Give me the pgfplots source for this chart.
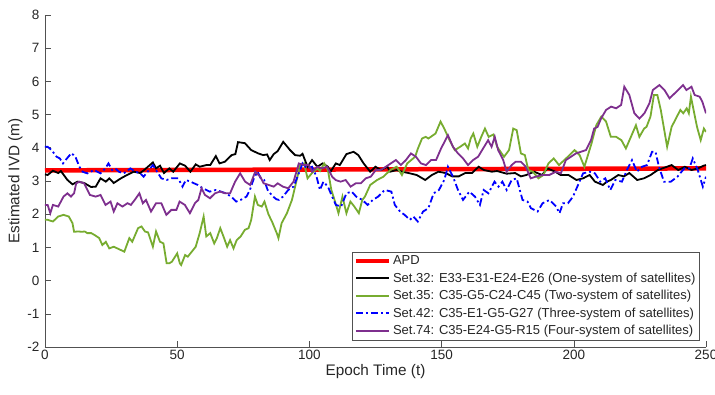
\documentclass[border=0pt]{standalone}
\usepackage{pgfplots}
\pgfplotsset{compat=1.18}
\usepackage{fontspec}
\setmainfont{Liberation Sans}
\definecolor{mgreen}{RGB}{119,172,48}
\definecolor{mpurple}{RGB}{126,47,142}
\definecolor{axgray}{RGB}{38,38,38}
\begin{document}
\begin{tikzpicture}
\useasboundingbox (-45pt,-47pt) rectangle (670pt,347pt);
\begin{axis}[
  at={(0,0)}, anchor=south west,
  scale only axis, width=661pt, height=332pt,
  xmin=0, xmax=250, ymin=-2, ymax=8,
  xtick={0,50,100,150,200,250}, ytick={-2,-1,0,1,2,3,4,5,6,7,8},
  axis lines=left, axis line style={-, draw=axgray!80, line width=0.6pt},
  tick align=inside, major tick length=6pt,
  tick style={draw=axgray!80, line width=0.6pt},
  /pgf/number format/assume math mode=true,
  ticklabel style={font=\fontsize{13.5}{15}\selectfont, text=axgray},
  yticklabel style={xshift=-2pt},
  xlabel={Epoch Time (t)}, ylabel={Estimated IVD (m)},
  label style={font=\fontsize{15.3}{17}\selectfont, text=axgray},
  xlabel style={yshift=3pt},
  ylabel style={yshift=-2pt},
  legend style={at={(0.464,0.286)}, anchor=north west, font=\fontsize{13}{14}\selectfont,
    draw=axgray!80, line width=0.6pt, inner sep=1.5pt, row sep=2.6pt, text=axgray},
  legend cell align=left,
  legend image code/.code={\draw[#1] (0pt,0.25pt) -- (33pt,0.25pt);},
]
\addplot[color=red, line width=4.5pt] coordinates {(0,3.32)(250,3.38)};
\addlegendentry{APD}
\addplot[color=black, line width=1.8pt] coordinates {
(0,3.2)(1,3.18)(3,3.31)(5,3.24)(6,3.3)(8.5,3.03)(10.4,2.9)(12.3,2.98)(14.8,2.94)(17.4,2.82)(19.2,2.83)(21,3.08)(23,2.98)(24.3,3.08)(26,2.94)(28.7,3.08)(31,3.18)(33.6,3.28)(36,3.24)(37.5,3.33)(40.8,3.56)(42,3.38)(43.5,3.46)(45,3.24)(47,3.38)(48.5,3.28)(51,3.53)(53,3.46)(55,3.28)(57,3.5)(58.5,3.43)(61,3.48)(62.5,3.48)(64.6,3.75)(66,3.53)(68,3.58)(70.6,3.78)(72,3.81)(73,4.17)(75.6,4.14)(78,3.93)(80.7,3.83)(82.5,3.78)(84,3.8)(85,3.63)(86.5,3.81)(88,3.9)(90.1,4.18)(92.7,3.93)(94.6,3.78)(96.5,3.76)(97.4,3.82)(99.3,3.43)(101,3.63)(103,3.43)(105,3.53)(107,3.43)(108,3.28)(110,3.53)(111.5,3.48)(114,3.81)(116.7,3.88)(118.5,3.78)(120.5,3.53)(123,3.28)(125,3.43)(127,3.33)(129.5,3.43)(130.5,3.28)(133,3.33)(135,3.28)(137.5,3.24)(140.6,3.18)(143.8,3.03)(146.3,3.18)(148.8,3.28)(151.5,3.24)(154,3.14)(156.5,3.14)(159,3.24)(161.5,3.24)(164,3.43)(166,3.33)(169,3.28)(171,3.3)(174.6,3.22)(177.8,3.24)(180,3.14)(182,3.18)(185,3.28)(188,3.18)(190,3.38)(193,3.28)(195,3.18)(198,3.18)(201,3.03)(203.5,3.08)(206,3.18)(208,2.98)(211,2.88)(212.5,2.98)(214,3.03)(216.8,3.18)(219,3.14)(221,3.24)(224,3.03)(226.5,3.08)(229,3.18)(231.8,3.33)(233.5,3.38)(237,3.48)(239.5,3.33)(242,3.43)(244.5,3.33)(247,3.38)(249,3.46)(250,3.48)};
\addlegendentry{Set.32: E33-E31-E24-E26 (One-system of satellites)}
\addplot[color=mgreen, line width=1.8pt] coordinates {
(0,1.83)(1,1.83)(3,1.78)(5,1.93)(7,1.98)(9,1.93)(10.4,1.73)(11,1.47)(12.5,1.48)(14,1.47)(15,1.48)(16,1.43)(17.5,1.43)(18.6,1.38)(20.5,1.28)(21.7,1.07)(23,1.17)(24.3,0.97)(26,1.02)(28.7,0.92)(30,0.87)(31.9,1.28)(33,1.17)(35.2,1.58)(36.5,1.63)(37.8,1.48)(39,1.45)(40.8,1.02)(42,1.48)(43.5,1.17)(44.8,1.12)(46,0.52)(47,0.52)(48,0.57)(50,0.82)(51,0.52)(51.5,0.47)(53,0.77)(54,0.72)(55,0.82)(57,1.02)(58.5,1.43)(60,1.93)(61,1.33)(62.5,1.43)(64,1.12)(65,1.28)(66.3,1.58)(67.5,1.33)(68.9,1.02)(70,1.22)(71.3,0.97)(72.5,1.22)(74,1.33)(75.6,1.53)(77,1.58)(78,1.83)(79.4,2.53)(80.5,2.28)(82,2.23)(83,2.38)(84.5,2.0)(86,1.75)(87.8,1.4)(88.3,1.28)(89.5,1.73)(91.5,2.03)(93.4,2.43)(94.6,2.83)(96.5,3.48)(98,3.53)(99.3,3.08)(101,3.24)(103,3.38)(104,3.3)(105.6,3.53)(107,3.33)(108.3,2.73)(109.5,2.43)(111,2.03)(112.5,2.53)(114,2.03)(115.5,2.38)(117,2.23)(118.7,2.03)(120,2.43)(121,2.53)(123,2.88)(125.6,3.03)(128,3.13)(130.6,3.33)(133,3.43)(135,3.18)(137,3.53)(138.5,3.63)(140,3.73)(141,3.97)(142.6,4.28)(144,4.33)(145,4.28)(147.7,4.43)(149.6,4.79)(151,4.58)(153,4.23)(155,3.93)(157,4.03)(158.8,4.13)(160,3.98)(161,4.28)(162,4.43)(163.5,4.03)(165,4.33)(166.4,4.58)(167.8,4.33)(169.6,4.4)(171,4.03)(173.6,3.73)(175.5,3.93)(177.1,4.58)(178.4,4.53)(180,3.83)(181.5,3.78)(182.8,3.33)(184.5,3.28)(186.6,3.08)(188.5,3.18)(190.4,3.53)(192.4,3.68)(194.4,3.48)(196.4,3.63)(198.4,3.78)(200.3,3.93)(202.2,3.78)(204,3.43)(206.7,4.13)(208.5,4.68)(210.4,4.94)(212.2,4.79)(214,4.33)(216,4.33)(218,4.23)(219.7,3.98)(221.6,4.33)(223.5,4.68)(224.8,4.33)(226.6,4.58)(227.5,4.63)(229,4.94)(230.3,5.59)(231.6,5.59)(232.9,5.14)(235.3,4.03)(237,4.63)(239,4.94)(240.3,5.14)(241.4,5.04)(242.7,5.19)(243.5,5.04)(244.3,5.54)(245.3,5.14)(246.6,4.63)(248,4.23)(249.2,4.58)(250,4.48)};
\addlegendentry{Set.35: C35-G5-C24-C45 (Two-system of satellites)}
\addplot[color=blue, line width=1.8pt, dash pattern=on 7pt off 3pt on 2pt off 3pt] coordinates {
(0,4.03)(1,4.03)(2.5,3.93)(4.4,3.73)(5.6,3.68)(6.8,3.53)(8.3,3.68)(10,3.84)(11.5,3.73)(13,3.43)(14.2,3.28)(16,3.23)(18.6,3.33)(21,3.23)(22.8,3.38)(24,3.53)(25.4,3.33)(26.6,3.38)(27.9,3.28)(29.8,3.23)(32.3,3.38)(34.2,3.28)(36,3.23)(37.3,3.13)(40.8,3.48)(42,3.33)(44,3.08)(46,3.03)(47.8,3.08)(50.4,3.08)(52,2.83)(53.3,3.03)(55,2.98)(57.8,2.88)(59.7,2.78)(62.3,2.68)(64.6,2.73)(66.5,2.68)(68.4,2.63)(70.4,2.53)(72.3,2.38)(74,2.43)(76.2,2.53)(77.5,2.73)(79,3.08)(80.4,3.28)(81.6,3.08)(82.9,3.03)(84.2,2.73)(86,2.55)(87.5,2.45)(88.5,2.43)(90,2.53)(92,2.73)(94,2.83)(96,3.23)(97.4,3.53)(99,3.38)(101,3.43)(102.7,3.13)(104,2.73)(105.3,2.98)(107,2.83)(108.6,2.53)(110,2.28)(112,2.23)(114,2.63)(116,2.68)(117.7,2.53)(120,2.43)(122,2.28)(124,2.43)(126,2.53)(128.5,2.73)(131,2.68)(132.3,2.28)(134.3,2.08)(136,1.98)(138,1.83)(139.3,1.93)(141,1.78)(143,2.08)(145,2.18)(147,2.63)(149,2.73)(151,3.03)(152.4,3.43)(154.3,3.13)(156.2,2.73)(158.1,2.43)(160.5,2.68)(162.6,2.53)(164.5,2.28)(165.9,2.73)(167.7,2.63)(170,2.98)(171.5,2.83)(173,2.98)(174.6,2.73)(176.5,3.03)(178.4,3.08)(180.6,2.43)(182.5,2.38)(183.8,2.18)(186.3,2.08)(188.2,2.33)(190.8,2.43)(193.3,2.23)(194.6,2.03)(195.9,2.33)(197.8,2.33)(199.7,2.53)(201.6,2.88)(203.5,3.23)(206,3.28)(208,3.23)(210,2.98)(211.9,3.08)(213.8,2.73)(215.7,3.03)(218.2,2.98)(220.1,3.33)(222,3.63)(223.9,3.28)(225.8,3.43)(227.7,3.48)(229.6,3.88)(230.9,3.88)(232.2,3.43)(234.1,2.98)(236.7,2.98)(239.2,3.13)(241.8,3.38)(243.7,3.38)(245,3.68)(246.9,3.33)(248.8,2.83)(250,3.13)};
\addlegendentry{Set.42: C35-E1-G5-G27 (Three-system of satellites)}
\addplot[color=mpurple, line width=1.8pt] coordinates {
(0,2.28)(1,2.28)(2,2.03)(3,2.28)(5,2.23)(7,2.53)(8.5,2.63)(9.8,2.53)(11,2.63)(11.8,2.93)(13,2.98)(14.8,2.93)(17,2.58)(19.2,2.53)(21,2.58)(22.9,2.28)(24.8,2.38)(26,2.08)(27.4,2.33)(29.3,2.23)(31.2,2.33)(32.5,2.28)(34.4,2.48)(35.7,2.63)(37,2.33)(38.2,2.43)(40.1,2.08)(42,2.33)(44,2.33)(45.9,1.98)(47.8,2.13)(49.7,2.13)(50.9,2.38)(52.9,2.28)(54.8,2.03)(56.7,2.33)(58,2.43)(59.2,2.78)(60.5,2.58)(62.4,2.48)(64.3,2.63)(66.2,2.68)(68.1,2.63)(70,2.63)(71.9,2.98)(73.8,3.23)(75.7,2.98)(77.6,2.88)(79.5,3.28)(81.4,3.13)(82.7,2.93)(84.6,2.88)(86.5,2.83)(88,2.93)(90,2.83)(92,2.78)(94,2.98)(96,3.53)(97.9,3.48)(99.8,3.48)(101,3.28)(102.9,3.43)(104.8,3.38)(106.7,3.43)(108.6,3.13)(109.9,3.03)(111.8,2.98)(113.7,3.03)(115.6,2.83)(117.5,2.93)(119.4,2.93)(121.3,3.08)(123.2,3.13)(125.1,3.33)(127,3.33)(128.9,3.43)(130.8,3.53)(132.7,3.63)(134.6,3.48)(136.5,3.63)(138.4,3.83)(140.3,3.73)(142.2,3.53)(144.1,3.48)(146,3.63)(147.9,3.63)(149.8,3.98)(152.4,4.38)(154.3,4.03)(156.2,3.83)(158.1,3.68)(160,3.48)(161.9,3.63)(163.8,3.73)(165.7,3.98)(167.6,4.23)(168.9,4.03)(170.1,4.33)(171.4,3.93)(173.3,3.63)(174.6,3.28)(176.5,3.48)(178,3.58)(180,3.58)(181.8,3.43)(183.7,3.08)(185.6,3.13)(188.2,3.18)(190.7,3.18)(193.2,3.28)(195.1,3.23)(197,3.63)(198.9,3.73)(200.8,3.83)(202.7,3.88)(204.6,3.93)(206.5,4.23)(207.7,4.58)(209,4.63)(210.3,4.88)(212.2,5.14)(214.1,5.24)(216,5.19)(217.9,5.29)(219.1,5.84)(221,5.59)(222.9,5.04)(224.8,4.88)(226.7,5.04)(228.6,5.34)(229.9,5.74)(232.4,5.89)(234.3,5.74)(236.2,5.49)(238.8,5.69)(241.3,5.89)(242.6,5.74)(244.5,5.84)(245.7,5.59)(247.6,5.54)(248.6,5.39)(250,5.04)};
\addlegendentry{Set.74: C35-E24-G5-R15 (Four-system of satellites)}
\end{axis}
\end{tikzpicture}
\end{document}
